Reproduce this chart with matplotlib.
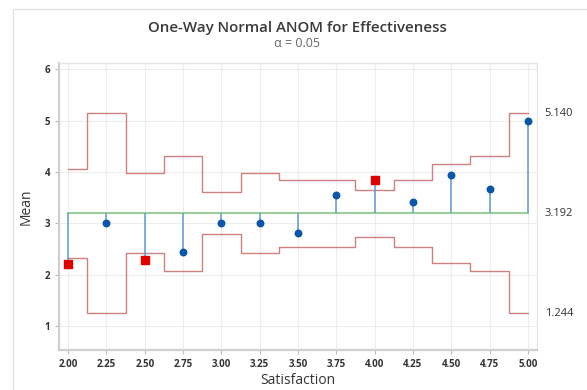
import matplotlib.pyplot as plt
import numpy as np

plt.rcParams['font.family'] = ['Open Sans', 'DejaVu Sans']

# Group levels and means
levels = [2.00, 2.25, 2.50, 2.75, 3.00, 3.25, 3.50, 3.75, 4.00, 4.25, 4.50, 4.75, 5.00]
means = [2.20, 3.00, 2.28, 2.44, 3.00, 3.00, 2.80, 3.55, 3.85, 3.42, 3.93, 3.67, 5.00]
# Decision limits per group
udl = [4.05, 5.14, 3.97, 4.31, 3.61, 3.97, 3.85, 3.85, 3.65, 3.85, 4.15, 4.31, 5.14]
ldl = [2.33, 1.244, 2.42, 2.07, 2.78, 2.42, 2.53, 2.53, 2.73, 2.53, 2.23, 2.07, 1.244]
center = 3.192
right_labels = ['5.140', '3.192', '1.244']
right_values = [5.140, 3.192, 1.244]

x = np.array(levels)
m = np.array(means)

fig = plt.figure(figsize=(5.87, 3.90), dpi=100)
# outer graph frame
fig.patches.append(plt.Rectangle((13 / 587, -0.1), 1.2, 1 - 9 / 390 + 0.1,
                                 transform=fig.transFigure, fill=False,
                                 edgecolor='#E3E3E3', linewidth=1))
ax = fig.add_axes([59 / 587, 40 / 390, 478 / 587, 287 / 390])

# step decision lines: boundaries at midpoints between groups
edges = np.concatenate([[x[0]], (x[:-1] + x[1:]) / 2, [x[-1]]])
sx = np.repeat(edges, 2)[1:-1]
ax.plot(sx, np.repeat(udl, 2), color='#CF8080', linewidth=1.0, zorder=2)
ax.plot(sx, np.repeat(ldl, 2), color='#CF8080', linewidth=1.0, zorder=2)

# center line
ax.plot([x[0], x[-1]], [center, center], color='#8CCB8C', linewidth=1.3, zorder=2)

# stems
ax.vlines(x, center, m, color='#5A9AD8', linewidth=1.1, zorder=3)

out = (m > np.array(udl)) | (m < np.array(ldl))
ax.scatter(x[~out], m[~out], s=22, color='#0A56A8', marker='o', zorder=4)
ax.scatter(x[out], m[out], s=26, color='#E00000', marker='s', zorder=4)

ax.set_xlim(1.94, 5.06)
ax.set_ylim(0.53, 6.12)
ax.set_xticks(levels)
ax.set_xticklabels([f'{v:.2f}' for v in levels])
ax.set_yticks([1, 2, 3, 4, 5, 6])
ax.tick_params(labelsize=7, colors='#333333', length=3, width=0.8)
for lab in ax.get_xticklabels() + ax.get_yticklabels():
    lab.set_fontweight('bold')
ax.tick_params(axis='both', color='#BBBBBB')
ax.grid(True, color='#EDEDED', linewidth=0.8)
ax.set_axisbelow(True)
for side in ['left', 'bottom']:
    ax.spines[side].set_color('#CFCFCF')
    ax.spines[side].set_linewidth(1.6)
for side in ['right', 'top']:
    ax.spines[side].set_color('#E6E6E6')
    ax.spines[side].set_linewidth(1.0)

for lbl, v in zip(right_labels, right_values):
    ax.text(5.11, v, lbl, fontsize=8, color='#333333', va='center', ha='left')

ax.set_xlabel('Satisfaction', fontsize=10, color='#333333', labelpad=2)
ax.set_ylabel('Mean', fontsize=10, color='#333333', labelpad=8)

fig.text(0.506, 0.928, 'One-Way Normal ANOM for Effectiveness', fontsize=10.8,
         fontweight='semibold', color='#3A3A3A', ha='center', va='center')
fig.text(0.506, 0.888, 'α = 0.05', fontsize=9, color='#666666',
         ha='center', va='center')

fig.savefig('out.png', dpi=100)
